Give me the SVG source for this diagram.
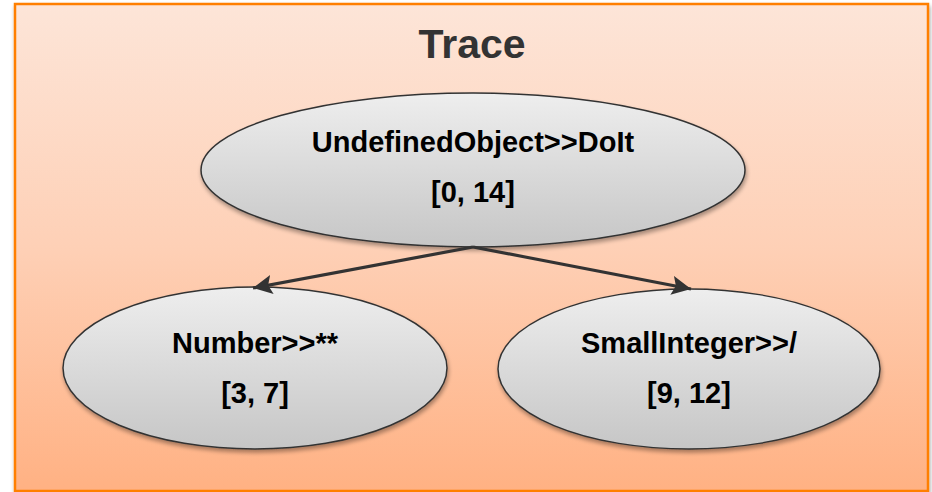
<svg xmlns="http://www.w3.org/2000/svg" width="932" height="492" viewBox="0 0 932 492">
  <defs>
    <linearGradient id="bg" x1="0" y1="0" x2="0" y2="1">
      <stop offset="0" stop-color="#FDE5D8"/>
      <stop offset="0.5" stop-color="#FED0B6"/>
      <stop offset="1" stop-color="#FFB183"/>
    </linearGradient>
    <linearGradient id="node" x1="0" y1="0" x2="0" y2="1">
      <stop offset="0" stop-color="#EEEEEE"/>
      <stop offset="1" stop-color="#C6C6C6"/>
    </linearGradient>
    <filter id="shadow" x="-10%" y="-10%" width="120%" height="130%">
      <feGaussianBlur in="SourceAlpha" stdDeviation="2"/>
      <feOffset dx="1" dy="3" result="b"/>
      <feComponentTransfer><feFuncA type="linear" slope="0.35"/></feComponentTransfer>
      <feMerge><feMergeNode/><feMergeNode in="SourceGraphic"/></feMerge>
    </filter>
    <marker id="arrow" viewBox="0 0 10 10" refX="10" refY="5" markerWidth="6" markerHeight="6" orient="auto" markerUnits="strokeWidth">
      <path d="M0,0 L10,5 L0,10 L2,5 z" fill="#333333"/>
    </marker>
  </defs>
  <style>
    .frame { fill: url(#bg); stroke: #FF7F00; stroke-width: 2.5; }
    .ellipse { fill: url(#node); stroke: #333333; stroke-width: 1.5; filter: url(#shadow); }
    .label { font-family: "Liberation Sans", Arial, sans-serif; font-weight: bold; font-size: 29px; fill: #000; text-anchor: middle; }
    .title { font-family: "Liberation Sans", Arial, sans-serif; font-weight: bold; font-size: 41px; fill: #333333; text-anchor: middle; }
    .edge { stroke: #333333; stroke-width: 3.2; fill: none; marker-end: url(#arrow); }
  </style>

  <rect class="frame" x="15" y="4" width="913" height="487" filter="url(#shadow)"/>
  <text class="title" x="472" y="58">Trace</text>

  <g id="node-doit">
    <ellipse class="ellipse" cx="473" cy="170" rx="272" ry="77"/>
    <text class="label" x="473" y="152">UndefinedObject&gt;&gt;DoIt</text>
    <text class="label" x="473" y="202">[0, 14]</text>
  </g>

  <g id="node-number">
    <ellipse class="ellipse" cx="255" cy="368" rx="192" ry="81"/>
    <text class="label" x="255" y="353">Number&gt;&gt;**</text>
    <text class="label" x="255" y="403">[3, 7]</text>
  </g>

  <g id="node-smallinteger">
    <ellipse class="ellipse" cx="689" cy="369" rx="191" ry="80"/>
    <text class="label" x="689" y="353">SmallInteger&gt;&gt;/</text>
    <text class="label" x="689" y="403">[9, 12]</text>
  </g>

  <g id="connectors">
    <line class="edge" x1="473" y1="247" x2="253" y2="288"/>
    <line class="edge" x1="473" y1="247" x2="691" y2="289"/>
  </g>
</svg>
